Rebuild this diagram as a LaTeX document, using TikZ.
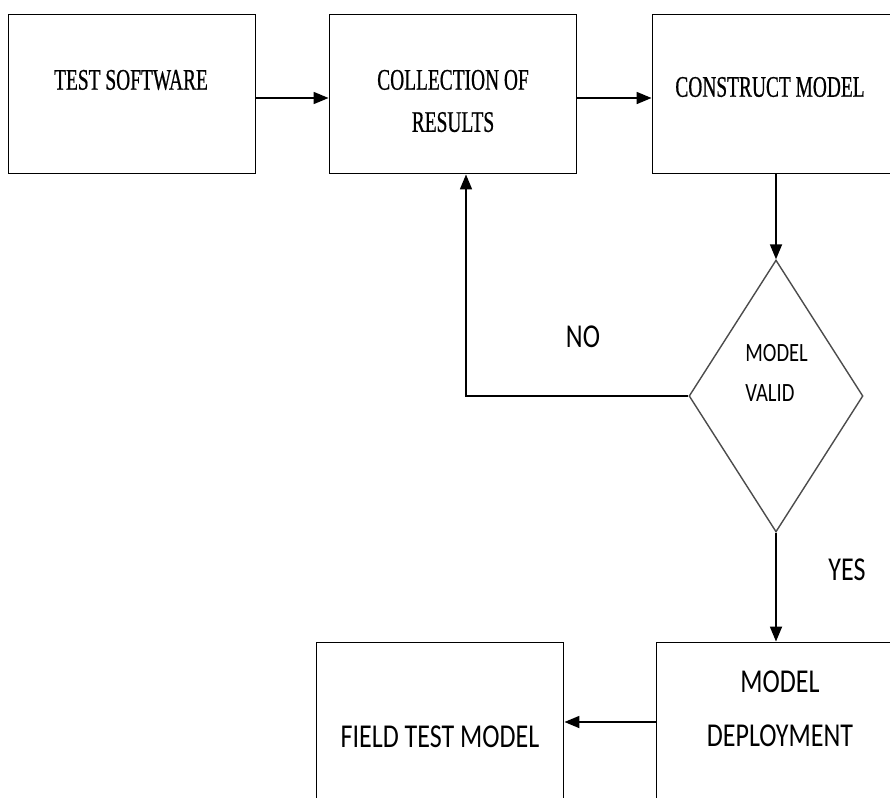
\documentclass[tikz,border=0pt]{standalone}
\usepackage{fontspec}
\usetikzlibrary{shapes.geometric,arrows.meta}
\newfontfamily\boxserif[FakeStretch=0.65,FakeBold=0.6]{Liberation Serif}
\newfontfamily\boxsans[FakeStretch=0.78]{Carlito}

\begin{document}
\begin{tikzpicture}[x=0.02cm, y=-0.02cm,
    box/.style={draw, line width=1.1pt, minimum width=4.94cm, minimum height=3.18cm, inner sep=0pt},
    decision/.style={draw=black!70, line width=0.8pt, diamond, minimum width=3.48cm, minimum height=5.44cm, inner sep=0pt},
    serif/.style={font=\boxserif\fontsize{17}{24}\selectfont, align=center, inner sep=0pt},
    sans/.style={font=\boxsans\fontsize{19}{31}\selectfont, align=center, inner sep=0pt},
    flow/.style={-{Triangle[length=3mm,width=2.4mm]}, line width=1pt}]
    \useasboundingbox (0,0) rectangle (890,798);
    \clip (0,0) rectangle (890,798);

    % Top row of steps
    \foreach \n/\x in {b1/132, b2/453, b3/776} {
        \node[box] (\n) at (\x,94) {};
    }
    \node[serif] (t1) at (131,80) {TEST SOFTWARE};
    \node[serif] (t2) at (453,101) {COLLECTION OF\\RESULTS};
    \node[serif] (t3) at (770,87) {CONSTRUCT MODEL};

    % Decision
    \node[decision] (dia) at (776,396) {};
    \node[sans, font=\boxsans\fontsize{15}{23}\selectfont, align=left, anchor=west] (t6) at (745,373) {MODEL\\VALID};

    % Bottom row
    \node[box] (b4) at (440,722) {};
    \node[box] (b5) at (780,722) {};
    \node[sans] (t4) at (440,737) {FIELD TEST MODEL};
    \node[sans] (t5) at (780,709) {MODEL\\DEPLOYMENT};

    % Arrows
    \draw[flow] ([yshift=-0.08cm]b1.east) -- ([yshift=-0.08cm]b2.west);
    \draw[flow] ([yshift=-0.08cm]b2.east) -- ([yshift=-0.08cm]b3.west);
    \draw[flow] (b3.south) -- (dia.north);
    \draw[flow] (dia.west) -| ([xshift=0.26cm]b2.south);
    \draw[flow] (dia.south) -- (dia.south |- b5.north);
    \draw[flow] (b5) -- (b4);

    % Branch labels
    \node[sans] (no) at (583,337) {NO};
    \node[sans] (yes) at (847,570) {YES};
\end{tikzpicture}
\end{document}
